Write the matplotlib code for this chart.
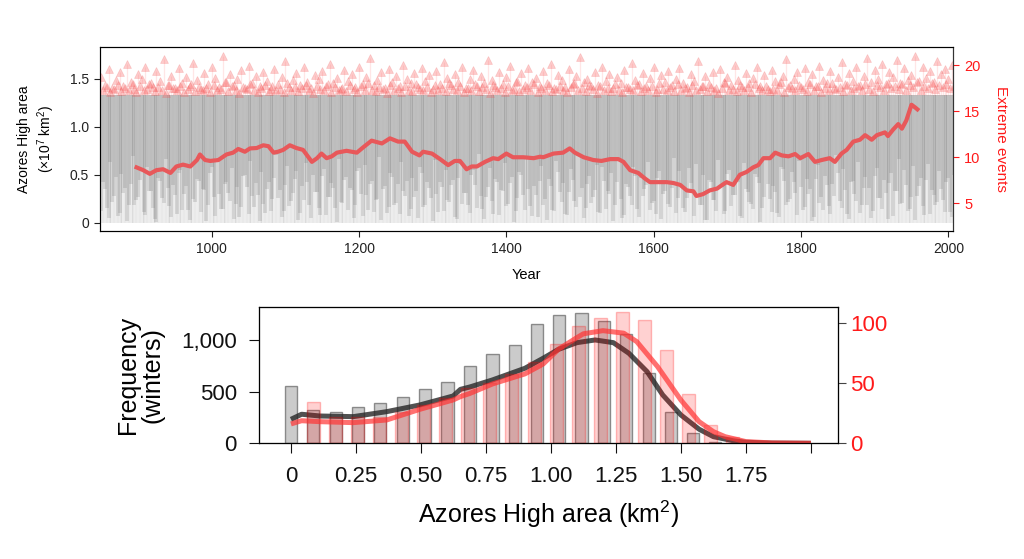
import numpy as np
import matplotlib
matplotlib.use("Agg")
import matplotlib.pyplot as plt

plt.rcParams['font.family'] = ['Liberation Sans', 'DejaVu Sans']
plt.rcParams['mathtext.default'] = 'regular'

# ================ top panel data ================
# grey streaks: lower end of each 5-year streak (upper end is the cap)
CAP = 1.33
grey_low_a = [
    0.12, 0.35, 0.05, 0.22, 0.48, 0.10, 0.31, 0.02, 0.40, 0.18, 0.27, 0.55,
    0.08, 0.33, 0.15, 0.01, 0.44, 0.21, 0.36, 0.06, 0.29, 0.52, 0.13, 0.38,
    0.03, 0.25, 0.46, 0.11, 0.34, 0.19, 0.58, 0.07, 0.30, 0.14, 0.42, 0.23,
    0.04, 0.37, 0.16, 0.50, 0.09, 0.28, 0.41, 0.02, 0.20, 0.35, 0.12, 0.47,
    0.26, 0.06, 0.39, 0.17, 0.31, 0.54, 0.10, 0.24, 0.43, 0.05, 0.32, 0.15,
    0.49, 0.08, 0.27, 0.36, 0.01, 0.22, 0.45, 0.13, 0.34, 0.19, 0.57, 0.07,
    0.29, 0.40, 0.11, 0.25, 0.03, 0.38, 0.16, 0.48, 0.21, 0.09, 0.33, 0.44,
    0.14, 0.27, 0.05, 0.52, 0.18, 0.36, 0.02, 0.30, 0.42, 0.12, 0.24, 0.39,
    0.06, 0.47, 0.20, 0.31, 0.10, 0.55, 0.15, 0.28, 0.04, 0.37, 0.23, 0.46,
    0.08, 0.33, 0.17, 0.41, 0.01, 0.26, 0.50, 0.13, 0.35, 0.07, 0.29, 0.44,
    0.19, 0.03, 0.38, 0.12, 0.53, 0.22, 0.09, 0.32, 0.45, 0.16, 0.27, 0.05,
    0.40, 0.21, 0.34, 0.11, 0.58, 0.14, 0.30, 0.02, 0.43, 0.25, 0.08, 0.37,
    0.18, 0.49, 0.06, 0.28, 0.39, 0.13, 0.23, 0.47, 0.04, 0.33, 0.20, 0.36,
    0.10, 0.54, 0.15, 0.26, 0.41, 0.07, 0.31, 0.19, 0.03, 0.45, 0.24, 0.12,
    0.38, 0.09, 0.51, 0.17, 0.29, 0.42, 0.05, 0.35, 0.22, 0.14, 0.48, 0.01,
    0.27, 0.40, 0.11, 0.32, 0.06, 0.56, 0.18, 0.25, 0.43, 0.08, 0.37, 0.16,
    0.30, 0.02, 0.46, 0.21, 0.13, 0.39, 0.09, 0.28, 0.52, 0.15, 0.34, 0.04,
    0.44, 0.23, 0.10, 0.36, 0.19, 0.05, 0.49, 0.26, 0.14, 0.31, 0.41, 0.07,
    0.33, 0.20, 0.55, 0.12, 0.27, 0.03, 0.38, 0.17, 0.45, 0.09, 0.29, 0.22,
    0.35, 0.11, 0.47, 0.06,
]
grey_low_b = [
    0.42, 0.15, 0.63, 0.28, 0.07, 0.51, 0.36, 0.19, 0.70, 0.24, 0.45, 0.11,
    0.58, 0.33, 0.04, 0.47, 0.26, 0.66, 0.17, 0.39, 0.09, 0.55, 0.30, 0.13,
    0.61, 0.22, 0.44, 0.35, 0.02, 0.52, 0.27, 0.68, 0.14, 0.40, 0.31, 0.57,
    0.20, 0.06, 0.49, 0.37, 0.64, 0.16, 0.29, 0.53, 0.10, 0.43, 0.25, 0.71,
    0.34, 0.12, 0.59, 0.23, 0.46, 0.03, 0.38, 0.62, 0.18, 0.50, 0.32, 0.08,
    0.56, 0.27, 0.41, 0.15, 0.67, 0.21, 0.48, 0.36, 0.05, 0.54, 0.30, 0.60,
    0.13, 0.44, 0.24, 0.69, 0.35, 0.10, 0.52, 0.19, 0.40, 0.63, 0.28, 0.07,
    0.47, 0.33, 0.58, 0.16, 0.42, 0.26, 0.65, 0.11, 0.37, 0.55, 0.22, 0.45,
    0.04, 0.61, 0.31, 0.18, 0.50, 0.39, 0.72, 0.14, 0.27, 0.57, 0.09, 0.43,
    0.34, 0.62, 0.20, 0.48, 0.12, 0.53, 0.29, 0.66, 0.17, 0.38, 0.06, 0.59,
    0.25, 0.46, 0.13, 0.64, 0.32, 0.41, 0.08, 0.56, 0.23, 0.70, 0.36, 0.15,
    0.49, 0.27, 0.60, 0.10, 0.44, 0.33, 0.52, 0.19, 0.67, 0.05, 0.40, 0.28,
    0.58, 0.14, 0.47, 0.35, 0.63, 0.21, 0.09, 0.54, 0.30, 0.45, 0.16, 0.68,
    0.26, 0.39, 0.11, 0.57, 0.34, 0.61, 0.18, 0.50, 0.03, 0.43, 0.24, 0.65,
    0.37, 0.12, 0.55, 0.29, 0.47, 0.07, 0.62, 0.32, 0.20, 0.51, 0.41, 0.15,
    0.69, 0.25, 0.38, 0.10, 0.58, 0.44, 0.22, 0.53, 0.31, 0.64, 0.13, 0.46,
    0.35, 0.06, 0.60, 0.27, 0.49, 0.17, 0.40, 0.71, 0.23, 0.56, 0.09, 0.42,
    0.30, 0.63, 0.19, 0.48, 0.36, 0.12, 0.57, 0.26, 0.45, 0.04, 0.52, 0.33,
    0.66, 0.21, 0.39, 0.14, 0.59, 0.28, 0.47, 0.08, 0.61, 0.34, 0.18, 0.54,
    0.24, 0.43, 0.11, 0.50,
]
# extreme winters (triangles above the cap)
tri_hi = [
    1.52, 1.44, 1.60, 1.41, 1.49, 1.57, 1.43, 1.66, 1.47, 1.40, 1.55, 1.50,
    1.63, 1.45, 1.42, 1.58, 1.48, 1.71, 1.44, 1.53, 1.41, 1.61, 1.46, 1.52,
    1.43, 1.67, 1.49, 1.40, 1.56, 1.45, 1.62, 1.51, 1.42, 1.74, 1.47, 1.55,
    1.44, 1.50, 1.59, 1.41, 1.64, 1.46, 1.53, 1.43, 1.57, 1.48, 1.40, 1.60,
    1.45, 1.52, 1.69, 1.42, 1.49, 1.56, 1.44, 1.62, 1.47, 1.41, 1.54, 1.50,
    1.58, 1.43, 1.66, 1.46, 1.51, 1.40, 1.59, 1.48, 1.55, 1.42, 1.63, 1.45,
    1.52, 1.72, 1.44, 1.49, 1.57, 1.41, 1.60, 1.47, 1.53, 1.43, 1.65, 1.50,
    1.46, 1.56, 1.42, 1.61, 1.48, 1.54, 1.40, 1.58, 1.45, 1.68, 1.51, 1.44,
    1.55, 1.47, 1.62, 1.41, 1.50, 1.59, 1.43, 1.53, 1.46, 1.70, 1.49, 1.42,
    1.57, 1.45, 1.52, 1.64, 1.40, 1.48, 1.56, 1.44, 1.61, 1.47, 1.51, 1.43,
    1.58, 1.46, 1.66, 1.41, 1.54, 1.49, 1.42, 1.60, 1.45, 1.53, 1.73, 1.47,
    1.50, 1.43, 1.57, 1.44, 1.62, 1.48, 1.55, 1.41, 1.52, 1.46, 1.59, 1.42,
    1.67, 1.49, 1.45, 1.56, 1.43, 1.51, 1.63, 1.40, 1.54, 1.47, 1.58, 1.44,
    1.50, 1.61, 1.46, 1.42, 1.55, 1.48, 1.69, 1.43, 1.53, 1.45, 1.57, 1.41,
    1.60, 1.47, 1.52, 1.44, 1.65, 1.49, 1.42, 1.56, 1.46, 1.51, 1.62, 1.43,
    1.54, 1.40, 1.59, 1.48, 1.45, 1.53, 1.71, 1.44, 1.50, 1.57, 1.42, 1.61,
    1.47, 1.55, 1.43, 1.64, 1.49, 1.46, 1.58, 1.41, 1.52, 1.68, 1.45, 1.56,
    1.48, 1.62, 1.44, 1.53, 1.72, 1.47, 1.59, 1.50, 1.66, 1.45, 1.57, 1.52,
    1.70, 1.46, 1.61, 1.49, 1.54, 1.74, 1.48, 1.63, 1.51, 1.58, 1.47, 1.69,
    1.55, 1.60, 1.50, 1.65,
]
tri_lo = [
    1.38, 1.42, 1.36, 1.40, 1.44, 1.37, 1.41, 1.39, 1.45, 1.36, 1.43, 1.38,
    1.40, 1.46, 1.37, 1.42, 1.39, 1.35, 1.44, 1.41, 1.38, 1.43, 1.36, 1.40,
    1.45, 1.37, 1.42, 1.39, 1.41, 1.36, 1.44, 1.38, 1.40, 1.47, 1.37, 1.43,
    1.39, 1.35, 1.42, 1.40, 1.45, 1.38, 1.36, 1.41, 1.44, 1.37, 1.43, 1.39,
    1.40, 1.36, 1.46, 1.38, 1.42, 1.37, 1.41, 1.44, 1.39, 1.35, 1.43, 1.40,
    1.38, 1.45, 1.36, 1.42, 1.39, 1.41, 1.37, 1.44, 1.40, 1.36, 1.43, 1.38,
    1.46, 1.39, 1.37, 1.42, 1.40, 1.35, 1.44, 1.38, 1.41, 1.36, 1.43, 1.39,
    1.37, 1.45, 1.40, 1.38, 1.42, 1.36, 1.44, 1.39, 1.41, 1.37, 1.46, 1.40,
    1.38, 1.43, 1.36, 1.41, 1.39, 1.45, 1.37, 1.42, 1.40, 1.35, 1.44, 1.38,
    1.41, 1.36, 1.43, 1.39, 1.47, 1.37, 1.40, 1.42, 1.38, 1.45, 1.36, 1.41,
    1.39, 1.44, 1.37, 1.40, 1.43, 1.38, 1.36, 1.42, 1.46, 1.39, 1.41, 1.37,
    1.44, 1.40, 1.35, 1.43, 1.38, 1.41, 1.37, 1.45, 1.39, 1.36, 1.42, 1.40,
    1.38, 1.44, 1.37, 1.41, 1.39, 1.43, 1.36, 1.46, 1.40, 1.38, 1.42, 1.37,
    1.45, 1.39, 1.41, 1.36, 1.44, 1.38, 1.40, 1.43, 1.37, 1.42, 1.39, 1.35,
    1.41, 1.46, 1.38, 1.40, 1.37, 1.44, 1.39, 1.42, 1.36, 1.45, 1.41, 1.38,
    1.43, 1.37, 1.40, 1.39, 1.47, 1.36, 1.42, 1.41, 1.38, 1.44, 1.40, 1.37,
    1.45, 1.39, 1.43, 1.36, 1.41, 1.38, 1.46, 1.40, 1.42, 1.37, 1.44, 1.39,
    1.41, 1.43, 1.38, 1.45, 1.40, 1.37, 1.44, 1.42, 1.39, 1.46, 1.41, 1.43,
    1.40, 1.45, 1.38, 1.44, 1.42, 1.47, 1.39, 1.43, 1.41, 1.46, 1.40, 1.44,
    1.42, 1.45, 1.41, 1.43,
]
# running count of extreme events
ev_years = [898, 907, 916, 925, 934, 944, 952, 961, 971, 980, 984, 991, 998,
            1009, 1020, 1029, 1036, 1045, 1052, 1061, 1070, 1077, 1084, 1090,
            1097, 1106, 1115, 1124, 1136, 1143, 1149, 1156, 1163, 1170, 1183,
            1197, 1206, 1217, 1231, 1242, 1253, 1262, 1272, 1282, 1287, 1299,
            1310, 1321, 1330, 1337, 1346, 1353, 1360, 1371, 1382, 1389, 1400,
            1409, 1423, 1437, 1446, 1450, 1464, 1477, 1486, 1493, 1505, 1518,
            1529, 1541, 1552, 1559, 1568, 1579, 1588, 1595, 1606, 1618, 1627,
            1636, 1645, 1654, 1658, 1667, 1676, 1686, 1695, 1699, 1708, 1717,
            1726, 1735, 1742, 1749, 1758, 1765, 1774, 1783, 1792, 1799, 1810,
            1819, 1828, 1839, 1846, 1855, 1862, 1871, 1880, 1887, 1896, 1903,
            1914, 1918, 1925, 1932, 1937, 1943, 1950, 1955, 1958]
ev_count = [8.9, 8.6, 8.2, 8.6, 8.7, 8.3, 9.0, 9.2, 9.0, 9.7, 10.3, 9.7, 9.6,
            9.7, 10.3, 10.5, 10.9, 10.6, 10.96, 11.0, 11.3, 11.2, 10.5, 10.6,
            10.8, 11.3, 11.0, 10.8, 9.5, 9.9, 10.4, 9.9, 10.1, 10.5, 10.7,
            10.5, 11.1, 11.8, 11.5, 12.05, 11.7, 11.7, 10.6, 10.2, 10.6, 10.4,
            9.8, 9.15, 9.6, 9.6, 8.7, 9.0, 9.0, 9.5, 9.9, 9.8, 10.4,
            10.0, 10.0, 9.9, 10.06, 10.0, 10.4, 10.5, 10.96, 10.5, 10.0, 9.7,
            9.6, 9.8, 9.8, 9.5, 8.6, 8.3, 7.7, 7.3, 7.3, 7.3, 7.2,
            7.0, 6.4, 6.3, 5.8, 6.0, 6.4, 6.6, 7.1, 7.3, 7.0, 8.1,
            8.4, 8.9, 9.15, 9.9, 9.9, 10.5, 10.2, 10.1, 10.35, 9.9, 10.35,
            9.5, 9.7, 9.9, 9.5, 10.4, 10.8, 11.7, 11.9, 12.4, 11.9, 12.4,
            12.7, 12.3, 13.0, 13.6, 13.1, 14.0, 15.7, 15.4, 15.2]

# ================ bottom panel data ================
grey_pos = [0, 0.086, 0.172, 0.258, 0.344, 0.43, 0.516, 0.602, 0.69, 0.775,
            0.861, 0.947, 1.032, 1.118, 1.204, 1.289, 1.377, 1.462, 1.546, 1.632]
grey_winters = [550, 320, 300, 348, 387, 445, 526, 596, 751, 864,
                952, 1155, 1245, 1264, 1187, 1055, 683, 300, 103, 15]
red_pos = [0.087, 0.171, 0.256, 0.34, 0.425, 0.51, 0.595, 0.68, 0.765, 0.85,
           0.935, 1.02, 1.105, 1.19, 1.275, 1.36, 1.445, 1.53, 1.615, 1.70]
red_events = [34, 22, 22, 22, 26, 32, 38, 46, 50, 58,
              68, 83, 98, 104, 109, 103, 78, 41, 15, 5.5]

dens_black_x = [0, 0.041, 0.112, 0.24, 0.368, 0.496, 0.624, 0.652, 0.688, 0.775,
                0.90, 0.97, 1.03, 1.10, 1.17, 1.24, 1.30, 1.37, 1.43, 1.50,
                1.57, 1.625, 1.70, 1.75, 1.85, 2.0]
dens_black = [232, 281, 264, 258, 306, 371, 458, 522, 545, 613,
              726, 823, 910, 974, 1000, 974, 871, 693, 468, 274,
              136, 64, 25, 10, 2, 0]
dens_red_x = [0, 0.041, 0.112, 0.24, 0.368, 0.496, 0.624, 0.652, 0.688, 0.775,
              0.90, 0.97, 1.03, 1.10, 1.125, 1.20, 1.28, 1.33, 1.41, 1.50,
              1.57, 1.625, 1.67, 1.75, 1.85, 2.0]
dens_red = [16.1, 18.8, 18.0, 17.2, 19.4, 28.3, 36.1, 38.9, 41.5, 49.4,
            57.8, 66.0, 78.5, 88.0, 91.2, 93.8, 91.7, 84.7, 63.9, 36.0,
            18.0, 9.7, 5.5, 1.4, 0.3, 0]

RED = '#ff1a1a'
fig = plt.figure(figsize=(10.24, 5.59), dpi=100)

# ---------------- top panel ----------------
ax1 = fig.add_axes([0.0977, 0.5873, 0.8330, 0.3292])
yrs_a = 850 + 5 * np.arange(len(grey_low_a))
yrs_b = 852.5 + 5 * np.arange(len(grey_low_b))
ax1.vlines(yrs_a, 0, CAP, colors='#8a8a8a', alpha=0.15, lw=2.7)
ax1.vlines(yrs_b, 0, CAP, colors='#8a8a8a', alpha=0.06, lw=1.2)
ax1.vlines(yrs_a, grey_low_a, CAP, colors='#747474', alpha=0.21, lw=2.7)
ax1.vlines(yrs_b, grey_low_b, CAP, colors='#747474', alpha=0.23, lw=2.7)

th_x = 850 + 5 * np.arange(len(tri_hi))
tl_x = 852.5 + 5 * np.arange(len(tri_lo))
ax1.vlines(th_x, CAP, tri_hi, colors='#ff5050', alpha=0.14, lw=0.9)
ax1.vlines(tl_x, CAP, tri_lo, colors='#ff5050', alpha=0.14, lw=0.9)
tri_style = dict(ls='none', marker='^', ms=5.5, mew=0.5,
                 mfc=(0.98, 0.38, 0.38, 0.32), mec=(0.92, 0.3, 0.3, 0.22))
ax1.plot(th_x, tri_hi, **tri_style)
ax1.plot(tl_x, tri_lo, **tri_style)

ax1.set_xlim(848.4, 2006.4)
ax1.set_ylim(-0.083, 1.837)
ax1.set_xticks([1000, 1200, 1400, 1600, 1800, 2000])
ax1.set_yticks([0, 0.5, 1.0, 1.5])
ax1.set_yticklabels(['0', '0.5', '1.0', '1.5'])
ax1.tick_params(labelsize=10, length=4, width=0.8, pad=4, colors='#222222')
ax1.set_xlabel('Year', fontsize=10.5, labelpad=9)
ax1.set_ylabel('Azores High area\n($\\times10^{7}$ km$^{2}$)', fontsize=10,
               labelpad=9, linespacing=1.3)
for s in ax1.spines.values():
    s.set_linewidth(0.8)
    s.set_color('#333333')

ax1r = ax1.twinx()
ax1r.plot(ev_years, ev_count, color='#e8585a', lw=3)
ax1r.set_ylim(2.03, 22.0)
ax1r.set_yticks([5, 10, 15, 20])
ax1r.tick_params(axis='y', labelsize=10.5, length=4, width=0.8, pad=4,
                 colors=RED)
ax1r.set_ylabel('Extreme events', color=RED, fontsize=11, rotation=270,
                labelpad=20)
ax1r.spines['right'].set_color('#333333')

# ---------------- bottom panel ----------------
ax2 = fig.add_axes([0.2529, 0.2070, 0.5654, 0.2438])
ax2.bar(grey_pos, grey_winters, width=0.047, color=(0.55, 0.55, 0.55, 0.45),
        edgecolor=(0.3, 0.3, 0.3, 0.6), lw=1)
ax2.plot(dens_black_x, dens_black, color=(0.15, 0.15, 0.15, 0.8), lw=3.6,
         solid_capstyle='butt')
ax2.set_xlim(-0.123, 2.104)
ax2.set_ylim(0, 1319)
ax2.set_xticks([0, 0.25, 0.5, 0.75, 1.0, 1.25, 1.5, 1.75, 2.0])
ax2.set_xticklabels(['0', '0.25', '0.50', '0.75', '1.00', '1.25', '1.50',
                     '1.75', ''])
ax2.set_yticks([0, 500, 1000])
ax2.set_yticklabels(['0', '500', '1,000'])
ax2.tick_params(labelsize=16, length=7, width=0.8, pad=9, colors='#111111')
ax2.set_xlabel('Azores High area (km$^{2}$)', fontsize=18, labelpad=9)
ax2.set_ylabel('Frequency\n(winters)', fontsize=18, labelpad=12,
               linespacing=1.0)
for s in ax2.spines.values():
    s.set_linewidth(0.9)
    s.set_color('#444444')

ax2r = ax2.twinx()
ax2r.bar(red_pos, red_events, width=0.05, color=(1, 0, 0, 0.18),
         edgecolor=(1, 0, 0, 0.25), lw=1)
ax2r.plot(dens_red_x, dens_red, color=(1, 0.2, 0.2, 0.7), lw=3.6,
          solid_capstyle='butt')
ax2r.set_ylim(0, 113.5)
ax2r.set_yticks([0, 50, 100])
ax2r.tick_params(axis='y', labelsize=16, length=6, width=0.8, pad=3,
                 colors='#444444', labelcolor=RED)

fig.savefig('out.png', dpi=100)
